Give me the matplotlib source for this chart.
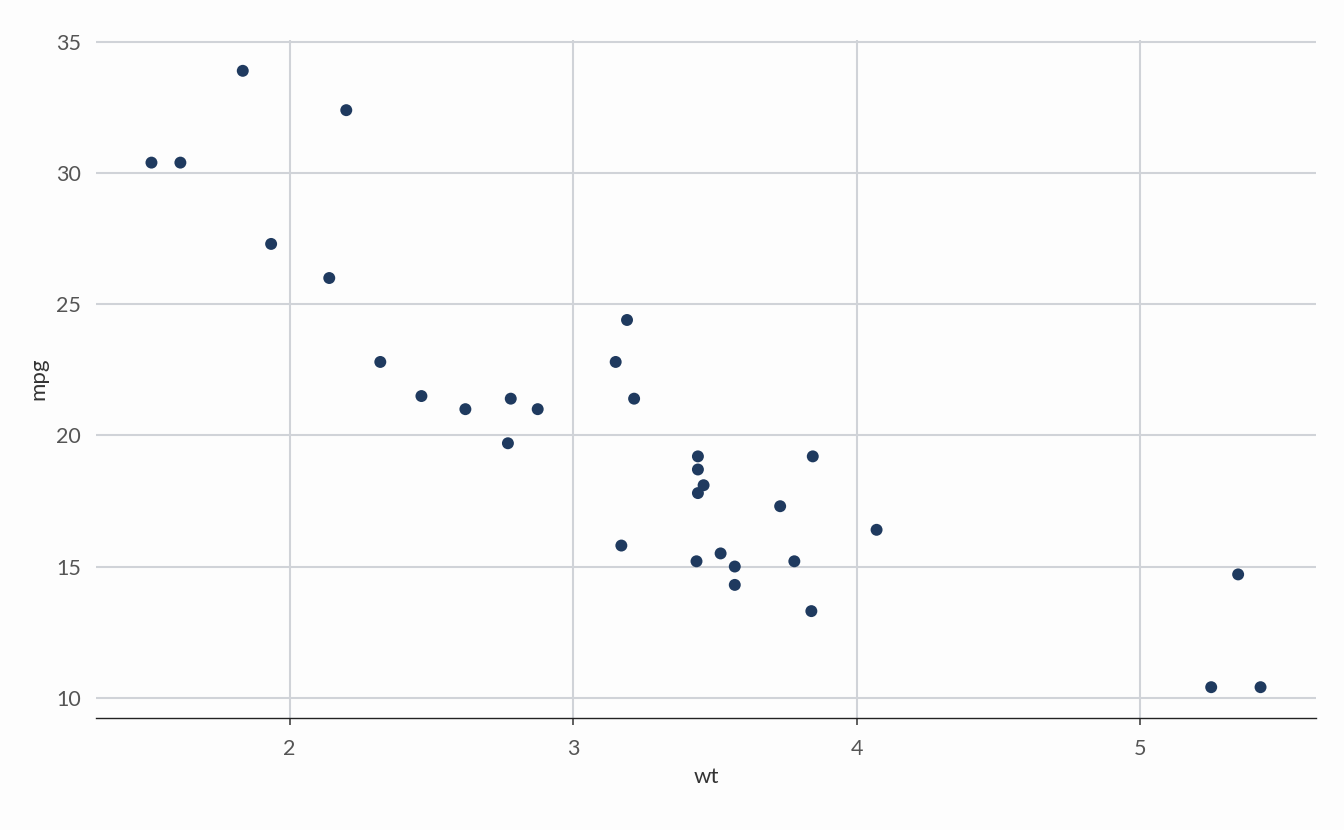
import matplotlib.pyplot as plt

# mtcars: weight (1000 lbs) vs miles per gallon
wt = [2.620, 2.875, 2.320, 3.215, 3.440, 3.460, 3.570, 3.190, 3.150, 3.440,
      3.440, 4.070, 3.730, 3.780, 5.250, 5.424, 5.345, 2.200, 1.615, 1.835,
      2.465, 3.520, 3.435, 3.840, 3.845, 1.935, 2.140, 1.513, 3.170, 2.770,
      3.570, 2.780]
mpg = [21.0, 21.0, 22.8, 21.4, 18.7, 18.1, 14.3, 24.4, 22.8, 19.2,
       17.8, 16.4, 17.3, 15.2, 10.4, 10.4, 14.7, 32.4, 30.4, 33.9,
       21.5, 15.5, 15.2, 13.3, 19.2, 27.3, 26.0, 30.4, 15.8, 19.7,
       15.0, 21.4]
x_ticks = [2, 3, 4, 5]
y_ticks = [10, 15, 20, 25, 30, 35]

plt.rcParams['font.family'] = ['Lato', 'DejaVu Sans']

fig = plt.figure(figsize=(13.44, 8.3), dpi=100, facecolor='#fdfdfd')
ax = fig.add_axes([96/1344, 1 - 718/830, (1316 - 96)/1344, (718 - 40)/830])
ax.set_facecolor('#fdfdfd')

ax.scatter(wt, mpg, s=74, color='#1f3a5f', edgecolors='none', zorder=3)

xr = max(wt) - min(wt)
yr = max(mpg) - min(mpg)
ax.set_xlim(min(wt) - 0.05 * xr, max(wt) + 0.05 * xr)
ax.set_ylim(min(mpg) - 0.05 * yr, max(mpg) + 0.05 * yr)
ax.set_xticks(x_ticks)
ax.set_yticks(y_ticks)
ax.grid(True, color='#d0d3d8', linewidth=1.5, zorder=0)
ax.set_axisbelow(True)

for side in ['top', 'right', 'left']:
    ax.spines[side].set_visible(False)
ax.spines['bottom'].set_color('#222222')
ax.spines['bottom'].set_linewidth(1.0)

ax.tick_params(axis='x', length=5, width=1.2, color='#444444',
               labelsize=15.5, labelcolor='#555555', pad=10)
ax.tick_params(axis='y', length=0, labelsize=15.5, labelcolor='#555555', pad=11)

ax.set_xlabel('wt', fontsize=16, color='#333333', labelpad=6)
ax.set_ylabel('mpg', fontsize=16, color='#333333', labelpad=5)

fig.savefig('out.png', dpi=100, facecolor=fig.get_facecolor())
